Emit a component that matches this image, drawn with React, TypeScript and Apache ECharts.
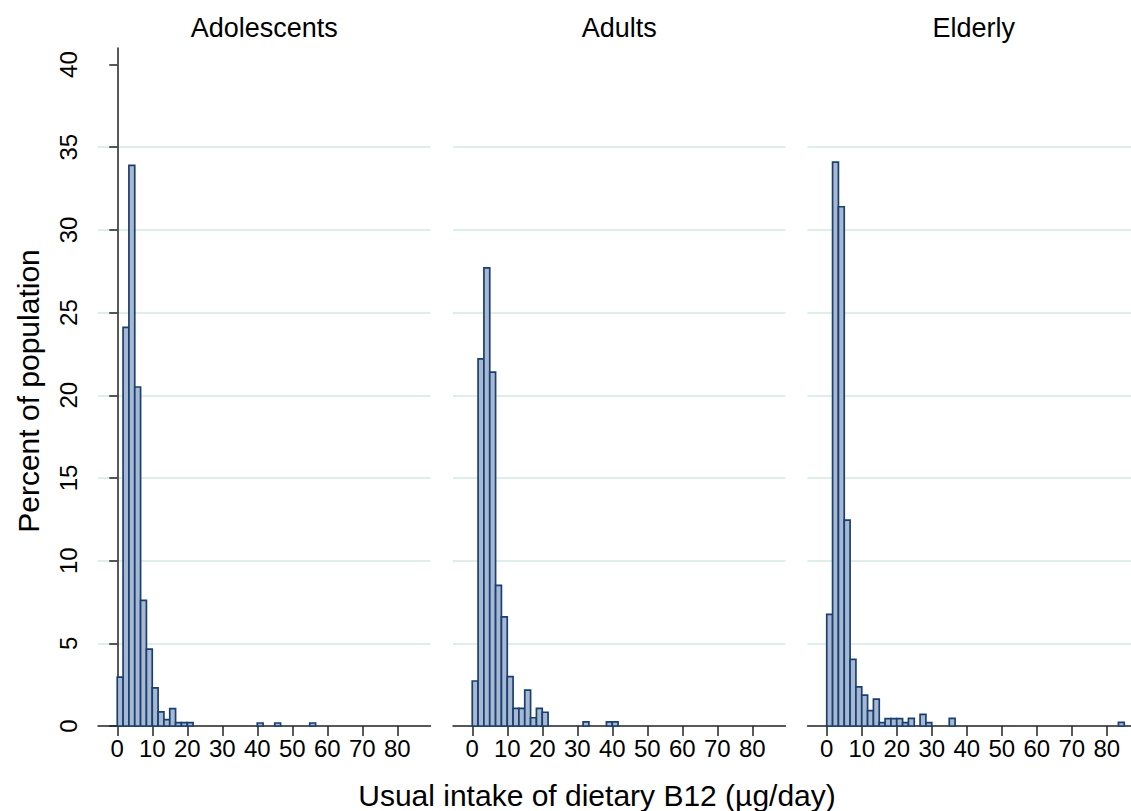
import React, { useEffect, useRef } from 'react';
import * as echarts from 'echarts';

// ---- data ----
const panelTitles = ['Adolescents', 'Adults', 'Elderly'];
const binWidth = 5 / 3; // µg/day per histogram bin, bins start at 0
const xTicks = [0, 10, 20, 30, 40, 50, 60, 70, 80];
const yTicks = [0, 5, 10, 15, 20, 25, 30, 35, 40];

// percent of population per bin (bin i covers [i*binWidth, (i+1)*binWidth))
const adolescents = [
  2.95, 24.1, 33.9, 20.5, 7.6, 4.65, 2.3, 0.85, 0.38, 1.05,
  0.2, 0.2, 0.2, 0, 0, 0, 0, 0, 0, 0,
  0, 0, 0, 0, 0.18, 0, 0, 0.18, 0, 0,
  0, 0, 0, 0.18, 0, 0, 0, 0, 0, 0,
  0, 0, 0, 0, 0, 0, 0, 0, 0, 0,
  0,
];
const adults = [
  2.72, 22.2, 27.7, 21.4, 8.5, 6.6, 2.98, 1.07, 1.07, 2.17,
  0.5, 1.07, 0.83, 0, 0, 0, 0, 0, 0, 0.25,
  0, 0, 0, 0.25, 0.25, 0, 0, 0, 0, 0,
  0, 0, 0, 0, 0, 0, 0, 0, 0, 0,
  0, 0, 0, 0, 0, 0, 0, 0, 0, 0,
  0,
];
const elderly = [
  6.75, 34.1, 31.4, 12.45, 4.03, 2.37, 1.87, 0.93, 1.63, 0.2,
  0.44, 0.44, 0.44, 0.2, 0.46, 0, 0.7, 0.2, 0, 0,
  0, 0.46, 0, 0, 0, 0, 0, 0, 0, 0,
  0, 0, 0, 0, 0, 0, 0, 0, 0, 0,
  0, 0, 0, 0, 0, 0, 0, 0, 0, 0,
  0.22,
];
const panelValues = [adolescents, adults, elderly];

// ---- layout / style ----
const FONT = '"Liberation Sans", Arial, Helvetica, sans-serif';
const PANEL_LEFT = [98, 453, 807.5];
const PANEL_WIDTH = 332.5;
const GRID_TOP = 48;
const GRID_HEIGHT = 678;
const X_MIN = -5.5;
const X_MAX = 89.5;
const Y_MAX = 41;
const BAR_FILL = '#a6b8d2';
const BAR_STROKE = '#1a3f70';
const GRID_COLOR = '#e0eded';
const AXIS_COLOR = '#222';

export default function App() {
  const ref = useRef<HTMLDivElement>(null);

  useEffect(() => {
    if (!ref.current) return;
    const chart = echarts.init(ref.current, undefined, { renderer: 'svg' });

    const grids = PANEL_LEFT.map((left) => ({
      left,
      top: GRID_TOP,
      width: PANEL_WIDTH,
      height: GRID_HEIGHT,
      containLabel: false,
    }));

    const xAxes = PANEL_LEFT.map((_, i) => ({
      type: 'value',
      gridIndex: i,
      min: X_MIN,
      max: X_MAX,
      splitLine: { show: false },
      axisLine: { show: true, onZero: false, lineStyle: { color: AXIS_COLOR, width: 1.5 } },
      axisTick: { show: true, length: 10, customValues: xTicks, lineStyle: { color: AXIS_COLOR, width: 1.5 } },
      axisLabel: {
        show: true,
        customValues: xTicks,
        fontSize: 24,
        fontFamily: FONT,
        color: '#000',
        margin: 10,
      },
    }));

    const yAxes = PANEL_LEFT.map((_, i) => ({
      type: 'value',
      gridIndex: i,
      min: 0,
      max: Y_MAX,
      axisLine: { show: i === 0, lineStyle: { color: AXIS_COLOR, width: 1.5 } },
      axisTick: { show: i === 0, length: 8, customValues: yTicks, lineStyle: { color: AXIS_COLOR, width: 1.5 } },
      axisLabel: {
        show: i === 0,
        customValues: yTicks,
        rotate: 90,
        fontSize: 24,
        fontFamily: FONT,
        color: '#000',
        margin: 18,
      },
      splitLine: {
        show: true,
        showMinLine: false,
        showMaxLine: false,
        lineStyle: { color: GRID_COLOR, width: 2 },
      },
    }));

    const series = panelValues.map((vals, i) => ({
      type: 'custom',
      xAxisIndex: i,
      yAxisIndex: i,
      encode: { x: [0, 1], y: 2 },
      data: vals
        .map((v, k) => [k * binWidth, (k + 1) * binWidth, v])
        .filter((d) => d[2] > 0),
      renderItem: (params: any, api: any) => {
        const p0 = api.coord([api.value(0), api.value(2)]);
        const p1 = api.coord([api.value(1), 0]);
        return {
          type: 'rect',
          shape: { x: p0[0], y: p0[1], width: p1[0] - p0[0], height: p1[1] - p0[1] },
          style: { fill: BAR_FILL, stroke: BAR_STROKE, lineWidth: 1.7 },
        };
      },
    }));

    const graphic: any[] = panelTitles.map((t, i) => ({
      type: 'text',
      x: PANEL_LEFT[i] + PANEL_WIDTH / 2,
      y: 28,
      style: {
        text: t,
        fontSize: 27,
        fontFamily: FONT,
        fill: '#000',
        textAlign: 'center',
        textVerticalAlign: 'middle',
      },
    }));
    graphic.push({
      type: 'text',
      x: 28,
      y: 391,
      rotation: Math.PI / 2,
      style: {
        text: 'Percent of population',
        fontSize: 30,
        fontFamily: FONT,
        fill: '#000',
        textAlign: 'center',
        textVerticalAlign: 'middle',
      },
    });
    graphic.push({
      type: 'text',
      x: 597,
      y: 795,
      style: {
        text: 'Usual intake of dietary B12 (µg/day)',
        fontSize: 30,
        fontFamily: FONT,
        fill: '#000',
        textAlign: 'center',
        textVerticalAlign: 'middle',
      },
    });

    chart.setOption({
      animation: false,
      backgroundColor: '#ffffff',
      grid: grids,
      xAxis: xAxes,
      yAxis: yAxes,
      series,
      graphic,
    });

    return () => {
      chart.dispose();
    };
  }, []);

  return (
    <div
      style={{
        position: 'fixed',
        left: 0,
        top: 0,
        width: 1131,
        height: 811,
        overflow: 'hidden',
        background: '#fff',
      }}
    >
      <div ref={ref} style={{ width: 1150, height: 811 }} />
    </div>
  );
}
